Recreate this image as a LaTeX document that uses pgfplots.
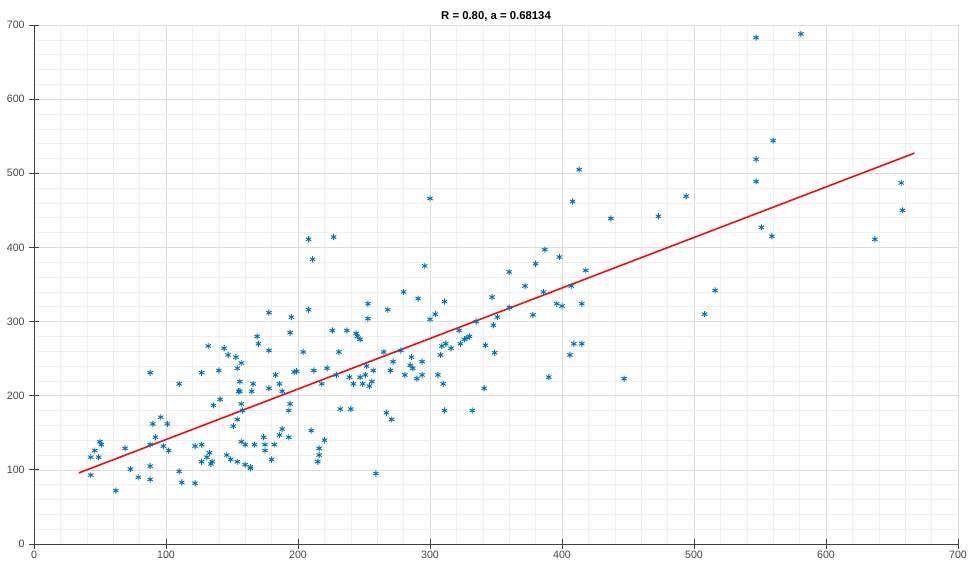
\documentclass[border=0pt]{standalone}
\usepackage{fontspec}
\setmainfont{Liberation Sans}
\usepackage{pgfplots}
\pgfplotsset{compat=1.18}
\definecolor{mblue}{rgb}{0,0.447,0.741}
\definecolor{mred}{rgb}{0.95,0.05,0.05}
\definecolor{axgray}{rgb}{0.25,0.25,0.25}

\pgfplotstableread{
x y
43 117
46 126
49 117
50 138
51 134
43 93
62 72
69 129
73 101
79 90
88 105
88 87
88 134
90 162
92 144
96 171
98 132
101 162
102 126
110 98
112 83
110 216
88 231
122 82
122 132
127 134
127 111
131 117
133 123
134 108
135 111
136 187
141 195
127 231
140 234
146 120
149 114
151 159
154 168
154 111
155 206
156 206
156 219
157 189
157 138
158 180
160 107
160 134
164 104
164 102
165 206
166 216
167 134
174 144
175 134
175 126
178 210
180 114
182 134
183 228
186 147
186 216
188 155
188 206
193 180
194 189
193 144
197 232
199 233
210 153
212 234
215 111
216 120
216 129
218 216
220 140
259 95
232 182
240 182
267 177
271 168
311 180
332 180
341 210
390 225
447 223
229 228
239 225
247 225
251 228
257 234
242 216
249 216
254 213
256 219
270 234
281 228
290 223
294 228
306 228
310 216
300 466
208 411
227 414
211 384
296 375
280 340
291 331
311 327
253 324
268 316
208 316
178 312
195 306
253 304
300 303
304 310
335 300
169 280
170 270
194 285
178 261
157 244
226 288
237 288
244 284
245 280
247 276
204 259
231 259
222 237
265 259
278 261
272 246
286 252
294 246
252 240
285 241
287 237
308 255
309 267
312 270
316 264
322 288
323 270
326 276
328 278
330 280
342 268
408 462
437 439
473 442
494 469
387 397
380 378
398 387
418 369
360 367
372 348
407 348
347 333
386 340
396 324
400 321
415 324
360 319
351 306
348 295
378 309
349 258
409 270
415 270
406 255
508 310
516 342
547 683
581 688
560 544
547 519
547 489
657 487
413 505
551 427
559 415
637 411
658 450
132 267
144 264
147 255
153 252
154 237
}\scatterdata

\begin{document}
\begin{tikzpicture}
\begin{axis}[
  name=ax,
  scale only axis,
  width=693pt, height=389.25pt,
  xmin=0, xmax=700, ymin=0, ymax=700,
  xtick={0,100,...,700}, ytick={0,100,...,700},
  minor tick num=4,
  minor tick length=0pt,
  major tick length=7pt,
  tick align=inside,
  axis lines=left,
  axis line style={-, draw=axgray, line width=0.6pt},
  tick style={draw=axgray, line width=0.6pt},
  grid=both,
  major grid style={draw=black!13, line width=0.5pt},
  minor grid style={draw=black!6, line width=0.4pt},
  ticklabel style={font=\fontsize{8}{9.5}\selectfont, text=black!72},
  xticklabel style={yshift=1.5pt},
  /pgf/number format/assume math mode=true,
  title={\textbf{R = 0.80, a = 0.68134}},
  title style={font=\fontsize{8.5}{10}\selectfont, yshift=-7pt},
  clip=false,
]
\addplot[only marks, mark=asterisk, mark size=2.3pt, draw=mblue, mark options={line width=0.7pt}] table {\scatterdata};
\addplot[mred, line width=1.2pt] coordinates {(34,95.9) (667,527.2)};
\end{axis}
\pgfresetboundingbox
\path[use as bounding box] ([xshift=-25.5pt,yshift=-12.75pt]ax.south west) rectangle ([xshift=8.25pt,yshift=18.75pt]ax.north east);
\end{tikzpicture}
\end{document}
